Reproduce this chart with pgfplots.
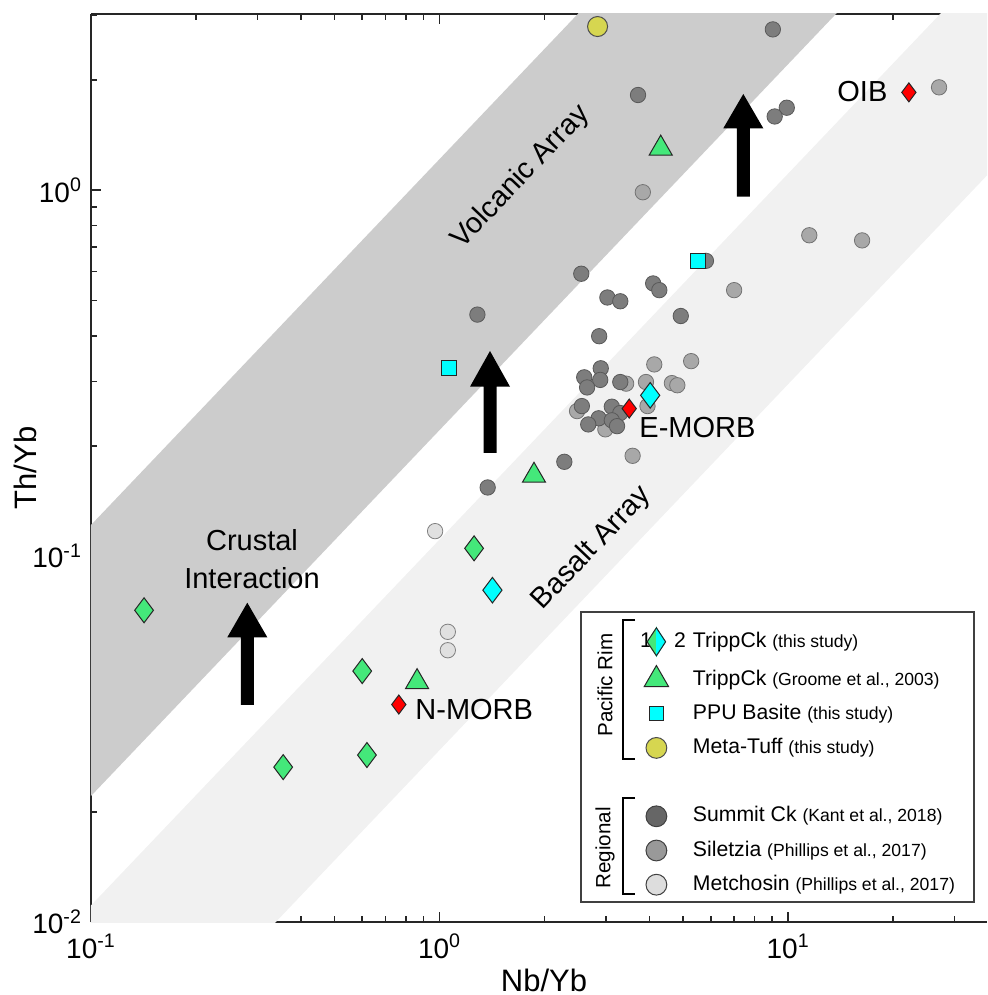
\documentclass[border=0pt]{standalone}
\usepackage{fontspec}
\setmainfont{Liberation Sans}
\usepackage{pgfplots}
\pgfplotsset{compat=1.18}

\definecolor{tgreen}{RGB}{68,232,122}
\definecolor{tcyan}{RGB}{0,255,255}
\definecolor{tyellow}{RGB}{214,214,80}
\definecolor{sumc}{RGB}{125,125,125}
\definecolor{silc}{RGB}{168,168,168}
\definecolor{metc}{RGB}{224,224,224}
\definecolor{sumL}{RGB}{102,102,102}
\definecolor{silL}{RGB}{153,153,153}
\definecolor{metL}{RGB}{221,221,221}
\definecolor{darkband}{RGB}{204,204,204}
\definecolor{lightband}{RGB}{241,241,241}
\definecolor{axc}{RGB}{38,38,38}

\newcommand\bigf{\fontsize{14.5}{19}\selectfont}
\newcommand\legf{\fontsize{10.6}{12}\selectfont}
\newcommand\smf{\fontsize{8.8}{10}\selectfont}
\newcommand\labf{\fontsize{15.5}{18}\selectfont}

\pgfplotsset{
  mylegimg/.style={legend image code/.code={\draw[##1] plot coordinates {(0pt,0pt)};}},
  trippleg/.style={legend image code/.code={
    \node[font=\legf, inner sep=0pt] at (-8.3pt,0pt) {1};
    \fill[tgreen] (0pt,7pt) -- (-4.6pt,0pt) -- (0pt,-7pt) -- cycle;
    \fill[tcyan] (0pt,7pt) -- (4.6pt,0pt) -- (0pt,-7pt) -- cycle;
    \draw[black!85, line width=0.5pt] (0pt,7pt) -- (-4.6pt,0pt) -- (0pt,-7pt) -- (4.6pt,0pt) -- cycle;
    \node[font=\legf, inner sep=0pt] at (8.7pt,0pt) {2};
  }},
}

\begin{document}
\begin{tikzpicture}
\begin{axis}[
  scale only axis, width=448pt, height=454pt,
  xmode=log, ymode=log,
  xmin=0.1, xmax=37.2, ymin=0.01, ymax=3.03,
  axis x line*=box, axis y line*=left,
  axis line style={-, draw=axc, line width=1.1pt},
  xtick={0.1,1,10},
  xticklabels={10\textsuperscript{-1},10\textsuperscript{0},10\textsuperscript{1}},
  ytick={0.01,0.1,1},
  yticklabels={10\textsuperscript{-2},10\textsuperscript{-1},10\textsuperscript{0}},
  minor xtick={0.2,0.3,0.4,0.5,0.6,0.7,0.8,0.9,2,3,4,5,6,7,8,9,20,30},
  minor ytick={0.02,0.03,0.04,0.05,0.06,0.07,0.08,0.09,0.2,0.3,0.4,0.5,0.6,0.7,0.8,0.9,2,3},
  xtick pos=both, ytick pos=left,
  tick align=inside,
  major tick length=5pt, minor tick length=3.2pt,
  every tick/.style={draw=axc, line width=0.8pt},
  tick label style={font=\fontsize{14}{16}\selectfont},
  xticklabel style={yshift=-2.5pt},
  yticklabel style={xshift=-1pt},
  xlabel={Nb/Yb}, ylabel={Th/Yb},
  every axis x label/.style={at={(axis description cs:0.5056,-0.0639)}, anchor=center, font=\labf},
  every axis y label/.style={at={(axis description cs:-0.0737,0.5)}, anchor=center, rotate=90, font=\labf},
  legend cell align=left,
  legend style={draw=none, fill=none, at={(0.6125,0.325)}, anchor=north west,
    font=\legf, row sep=4.6pt, column sep=2.5pt, inner sep=0pt,
    nodes={inner sep=1pt, text height=8pt, text depth=2.5pt}},
]
% bands
\addplot[fill=darkband, draw=none, forget plot] coordinates {(0.01,0.01216) (100,121.6) (100,22.1) (0.01,0.00221)};
\addplot[fill=lightband, draw=none, forget plot] coordinates {(0.01,0.00111) (100,11.1) (100,2.95) (0.01,0.000295)};

% Metchosin
\addplot[only marks, mark=*, mark size=3.85pt, mark options={fill=metc, draw=black!50, line width=0.4pt}, forget plot] coordinates {
(0.971,0.117) (1.056,0.0621) (1.056,0.0553)};
% Siletzia
\addplot[only marks, mark=*, mark size=3.85pt, mark options={fill=silc, draw=black!55, line width=0.4pt}, forget plot] coordinates {
(27.1,1.91) (3.83,0.987) (11.5,0.753) (16.3,0.729) (7.0,0.533)
(3.43,0.296) (3.91,0.299) (4.13,0.334) (5.27,0.341) (4.64,0.297) (4.81,0.293)
(3.95,0.257) (2.48,0.249) (2.99,0.222) (3.58,0.188)};
% Summit Ck
\addplot[only marks, mark=*, mark size=3.85pt, mark options={fill=sumc, draw=black!65, line width=0.4pt}, forget plot] coordinates {
(9.04,2.75) (3.71,1.82) (9.91,1.68) (9.15,1.59) (5.81,0.641) (2.55,0.591)
(4.10,0.556) (4.27,0.533) (3.03,0.509) (3.30,0.497) (4.92,0.453) (2.87,0.399)
(1.284,0.457) (1.374,0.154) (2.28,0.181)
(2.60,0.308) (2.90,0.326) (2.89,0.303) (2.65,0.289) (3.30,0.299)
(2.56,0.257) (3.12,0.256) (3.30,0.246) (2.86,0.238) (2.67,0.229) (3.12,0.235) (3.23,0.2265)};

% TrippCk this study (1) green diamonds
\addplot[only marks, mark=diamond*, mark size=6.25pt, mark options={fill=tgreen, draw=black!85, line width=0.5pt}, forget plot] coordinates {
(0.142,0.0711) (1.256,0.105) (0.600,0.0485) (0.619,0.0286) (0.356,0.0265)};
% TrippCk this study (2) cyan diamonds
\addplot[only marks, mark=diamond*, mark size=6.4pt, mark options={fill=tcyan, draw=black!85, line width=0.5pt}, forget plot] coordinates {
(1.418,0.0807) (4.02,0.275)};
% TrippCk Groome triangles
\addplot[only marks, mark=triangle*, mark size=6.65pt, mark options={fill=tgreen, draw=black!85, line width=0.5pt}, forget plot] coordinates {
(0.862,0.0453) (1.866,0.166) (4.31,1.30)};
% PPU Basite squares
\addplot[only marks, mark=square*, mark size=3.75pt, mark options={fill=tcyan, draw=black!85, line width=0.5pt}, forget plot] coordinates {
(1.067,0.326) (5.51,0.640)};
% Meta-Tuff
\addplot[only marks, mark=*, mark size=5pt, mark options={fill=tyellow, draw=black!70, line width=0.5pt}, forget plot] coordinates {
(2.84,2.80)};
% reference compositions N-MORB, E-MORB, OIB
\addplot[only marks, mark=diamond*, mark size=4.75pt, mark options={fill=red, draw=black!85, line width=0.5pt}, forget plot] coordinates {
(0.764,0.0393) (3.50,0.253) (22.2,1.85)};

% legend frame
\draw[draw=black!75, line width=0.8pt, fill=white] (rel axis cs:0.5469,0.0220) rectangle (rel axis cs:0.9855,0.3414);

\addlegendimage{trippleg}
\addlegendentry{TrippCk {\smf(this study)}}
\addlegendimage{only marks, mark=triangle*, mark size=7pt, mark options={fill=tgreen, draw=black!85, line width=0.5pt}, mylegimg}
\addlegendentry{TrippCk {\smf(Groome et al., 2003)}}
\addlegendimage{only marks, mark=square*, mark size=3.6pt, mark options={fill=tcyan, draw=black!85, line width=0.5pt}, mylegimg}
\addlegendentry{PPU Basite {\smf(this study)}}
\addlegendimage{only marks, mark=*, mark size=5.2pt, mark options={fill=tyellow, draw=black!70, line width=0.5pt}, mylegimg}
\addlegendentry{Meta-Tuff {\smf(this study)}}
\addlegendimage{empty legend}
\addlegendentry{}
\addlegendimage{only marks, mark=*, mark size=5.2pt, mark options={fill=sumL, draw=black!75, line width=0.5pt}, mylegimg}
\addlegendentry{Summit Ck {\smf(Kant et al., 2018)}}
\addlegendimage{only marks, mark=*, mark size=5.2pt, mark options={fill=silL, draw=black!75, line width=0.5pt}, mylegimg}
\addlegendentry{Siletzia {\smf(Phillips et al., 2017)}}
\addlegendimage{only marks, mark=*, mark size=5.2pt, mark options={fill=metL, draw=black!75, line width=0.5pt}, mylegimg}
\addlegendentry{Metchosin {\smf(Phillips et al., 2017)}}
\end{axis}

% annotations in reference-pixel coordinates
\begin{scope}[x=0.5pt, y=-0.5pt, shift={(-45.5pt,461pt)}]
\fill[black] (247.3,602.7) -- (267.3,637.3) -- (253.8,637.3) -- (253.8,705) -- (240.8,705) -- (240.8,637.3) -- (227.3,637.3) -- cycle;
\fill[black] (490,351) -- (510,386.7) -- (496.5,386.7) -- (496.5,453) -- (483.5,453) -- (483.5,386.7) -- (470,386.7) -- cycle;
\fill[black] (743.3,94) -- (763.3,128.3) -- (749.8,128.3) -- (749.8,196.7) -- (736.8,196.7) -- (736.8,128.3) -- (723.3,128.3) -- cycle;
\node[font=\bigf, align=center, inner sep=0pt] at (252,559) {Crustal\\Interaction};
\node[font=\bigf, anchor=west, inner sep=0pt] at (415,710) {N-MORB};
\node[font=\bigf, anchor=west, inner sep=0pt] at (639,428) {E-MORB};
\node[font=\bigf, anchor=west, inner sep=0pt] at (837,92) {OIB};
\node[font=\bigf, rotate=46.4, inner sep=0pt] at (521,177) {Volcanic Array};
\node[font=\bigf, rotate=46.4, inner sep=0pt] at (592,548) {Basalt Array};
\draw[line width=0.9pt] (635,620) -- (622.7,620) -- (622.7,759.3) -- (635,759.3);
\draw[line width=0.9pt] (635,798.3) -- (622.7,798.3) -- (622.7,894) -- (635,894);
\node[font=\fontsize{10.3}{12}\selectfont, rotate=90, inner sep=0pt] at (605,685) {Pacific Rim};
\node[font=\fontsize{10.3}{12}\selectfont, rotate=90, inner sep=0pt] at (605,848) {Regional};
\end{scope}
\pgfresetboundingbox
\path[use as bounding box] (-45.5pt,-36.5pt) rectangle (448pt,461pt);
\end{tikzpicture}
\end{document}
